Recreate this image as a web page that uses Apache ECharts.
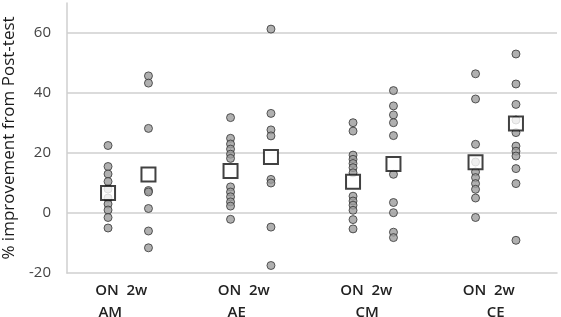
<!DOCTYPE html>
<html>
<head>
<meta charset="utf-8">
<script src="https://cdn.jsdelivr.net/npm/echarts@6/dist/echarts.min.js"></script>
<style>
  html, body { margin: 0; padding: 0; background: #fff; }
  #chart { width: 561px; height: 317px; }
</style>
</head>
<body>
<div id="chart"></div>
<script>
// groups along the x axis
const groups = ['AM', 'AE', 'CM', 'CE']
const subLabels = ['ON', '2w']

// individual % improvement values, one list per group
const onValues = [
    [22.5, 15.5, 13, 10.5, 8, 5, 3, 1, -1.5, -5],
    [31.8, 24.9, 23, 21.3, 19.6, 18.2, 8.7, 7, 5.4, 3.7, 2.3, -2.1],
    [30.1, 27.3, 19.3, 17.9, 16.5, 15.1, 13.4, 5.6, 4, 2.6, 0.9, -2.2, -5.3],
    [46.4, 38, 22.9, 17, 13.7, 11.8, 9.8, 7.9, 5, -1.5]
]
const twoWeekValues = [
    [45.7, 43.3, 28.2, 7.5, 7, 1.5, -6, -11.6],
    [61.3, 33.2, 27.7, 25.7, 11.2, 10, -4.7, -17.5],
    [40.8, 35.7, 32.7, 30.1, 25.8, 12.9, 3.5, 0.1, -6.4, -8.2],
    [53, 43, 36.2, 31, 26.8, 22.3, 20.6, 19, 14.8, 9.8, -9.1]
]
// group means (white squares)
const onMeans = [6.7, 14.0, 10.4, 16.9]
const twoWeekMeans = [12.8, 18.7, 16.3, 29.8]

const yTicks = [-20, 0, 20, 40, 60]

const subOffset = 0.165
// the text boxes under the axis sit a little off centre in the original
const nameShift = { AM: 36, AE: 28, CM: 12, CE: 0 }

function pointsFor(lists, offset) {
    const out = []
    lists.forEach(function (vals, i) {
        vals.forEach(function (v) { out.push([i + 0.5 + offset, v]) })
    })
    return out
}
function meansFor(means, offset) {
    return means.map(function (v, i) { return [i + 0.5 + offset, v] })
}

const gridColor = '#cfcfcf'
const dotStyle = { color: '#9c9c9c', borderColor: '#333', borderWidth: 1 }
const squareStyle = { color: '#fff', borderColor: '#111', borderWidth: 2 }

const labelFont = { fontSize: 15, fontWeight: 600, color: '#222', lineHeight: 22 }
const rich = { a: Object.assign({ padding: [0, 14, 0, 0] }, labelFont) }
groups.forEach(function (g) {
    rich[g] = Object.assign({ padding: [0, nameShift[g], 0, 0] }, labelFont)
})

const option = {
    animation: false,
    textStyle: { fontFamily: 'Open Sans' },
    grid: { left: 67, right: 4, top: 3, bottom: 44, containLabel: false, outerBoundsMode: 'none' },
    xAxis: [
        {
            type: 'value',
            min: 0,
            max: groups.length,
            show: false
        },
        {
            type: 'category',
            data: groups,
            position: 'bottom',
            boundaryGap: true,
            axisLine: { show: true, lineStyle: { color: gridColor, width: 1.5 } },
            axisTick: { show: false },
            axisLabel: {
                interval: 0,
                margin: 7,
                formatter: function (name) {
                    return '{a|' + subLabels.join('  ') + '}\n{' + name + '|' + name + '}'
                },
                rich: rich
            }
        }
    ],
    yAxis: {
        type: 'value',
        min: -20,
        max: 70,
        interval: 20,
        name: '% improvement from Post-test',
        nameLocation: 'middle',
        nameGap: 49,
        nameTextStyle: { fontSize: 17, color: '#1a1a1a' },
        axisLine: { show: true, lineStyle: { color: gridColor, width: 1.5 } },
        axisTick: { show: false },
        axisLabel: {
            margin: 16,
            fontSize: 15,
            color: '#444',
            formatter: function (v) { return yTicks.indexOf(v) >= 0 ? String(v) : '' }
        },
        splitLine: {
            show: true,
            showMinLine: false,
            showMaxLine: false,
            lineStyle: { color: gridColor, width: 1.5 }
        }
    },
    series: [
        {
            name: 'ON',
            type: 'scatter',
            xAxisIndex: 0,
            symbol: 'circle',
            symbolSize: 8,
            itemStyle: dotStyle,
            data: pointsFor(onValues, -subOffset)
        },
        {
            name: '2w',
            type: 'scatter',
            xAxisIndex: 0,
            symbol: 'circle',
            symbolSize: 8,
            itemStyle: dotStyle,
            data: pointsFor(twoWeekValues, subOffset)
        },
        {
            name: 'ON mean',
            type: 'scatter',
            xAxisIndex: 0,
            symbol: 'rect',
            symbolSize: 14,
            itemStyle: squareStyle,
            z: 5,
            data: meansFor(onMeans, -subOffset)
        },
        {
            name: '2w mean',
            type: 'scatter',
            xAxisIndex: 0,
            symbol: 'rect',
            symbolSize: 14,
            itemStyle: squareStyle,
            z: 5,
            data: meansFor(twoWeekMeans, subOffset)
        }
    ]
}

const chart = echarts.init(document.getElementById('chart'))
chart.setOption(option)
window.onresize = function () {
    chart.resize()
}
</script>
</body>
</html>
